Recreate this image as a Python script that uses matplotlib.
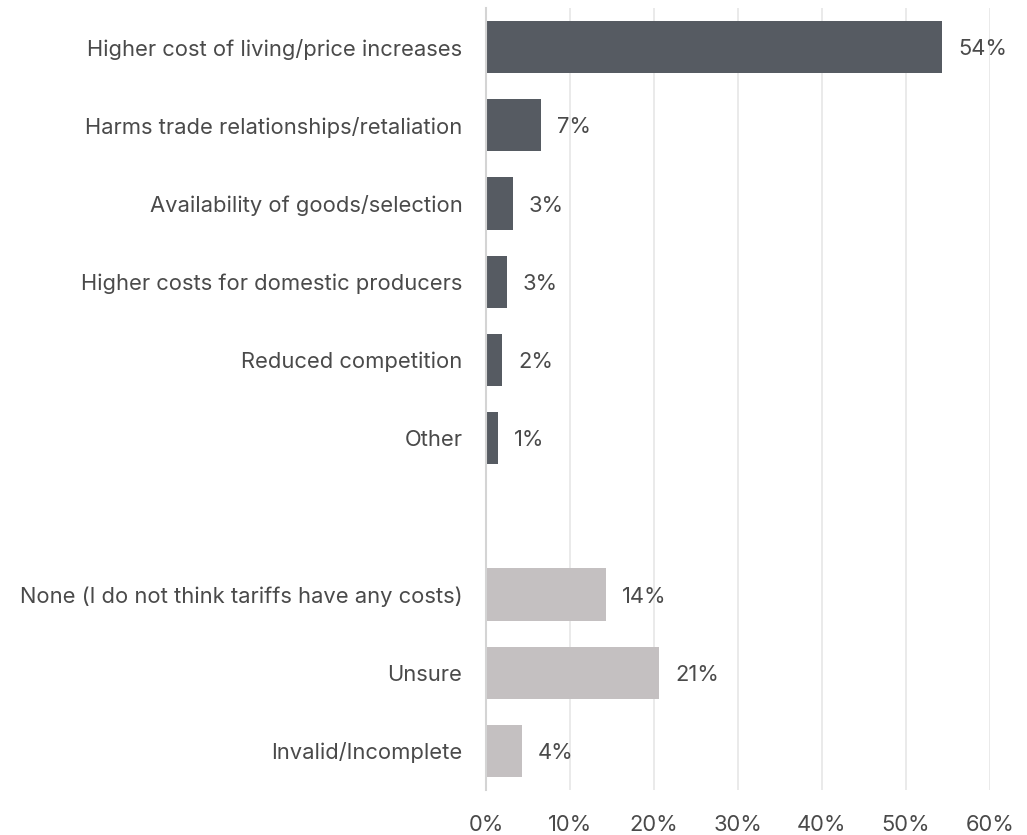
import matplotlib.pyplot as plt
import numpy as np

plt.rcParams['font.family'] = ['Inter', 'DejaVu Sans']

labels = ["Higher cost of living/price increases",
          "Harms trade relationships/retaliation",
          "Availability of goods/selection",
          "Higher costs for domestic producers",
          "Reduced competition",
          "Other",
          "None (I do not think tariffs have any costs)",
          "Unsure",
          "Invalid/Incomplete"]
values = [54.3, 6.5, 3.2, 2.5, 1.9, 1.4, 14.3, 20.6, 4.3]
value_text = ["54%", "7%", "3%", "3%", "2%", "1%", "14%", "21%", "4%"]
positions = [0, 1, 2, 3, 4, 5, 7, 8, 9]
colors = ["#565b62"] * 6 + ["#c4c0c1"] * 3
xticks = [0, 10, 20, 30, 40, 50, 60]

txt_color = '#4a4a4a'
fs = 15.8

fig = plt.figure(figsize=(10.27, 8.35), dpi=100)
ax = fig.add_axes([486/1027, 1-790/835, (990-486)/1027, (790-8)/835])

ax.barh(positions, values, height=0.67, color=colors, zorder=2)
for p, v, t in zip(positions, values, value_text):
    ax.annotate(t, (v, p), xytext=(11.5, -1.5), textcoords='offset points',
                ha='left', va='center', fontsize=fs, color=txt_color,
                annotation_clip=False)

ax.set_xlim(0, 60)
ax.set_ylim(9.5, -0.5)
ax.set_yticks(positions)
ax.set_yticklabels(labels, fontsize=fs, color=txt_color)
ax.set_xticks(xticks)
ax.set_xticklabels([f"{x}%" for x in xticks], fontsize=fs, color=txt_color)
ax.tick_params(axis='y', length=0, pad=17)
ax.tick_params(axis='x', length=0, pad=18)
ax.grid(axis='x', color='#e6e6e6', linewidth=1.2, zorder=0)
for s in ['top', 'right', 'bottom']:
    ax.spines[s].set_visible(False)
ax.spines['left'].set_color('#d4d4d4')
ax.spines['left'].set_linewidth(1.5)

fig.savefig('out.png', dpi=100)
